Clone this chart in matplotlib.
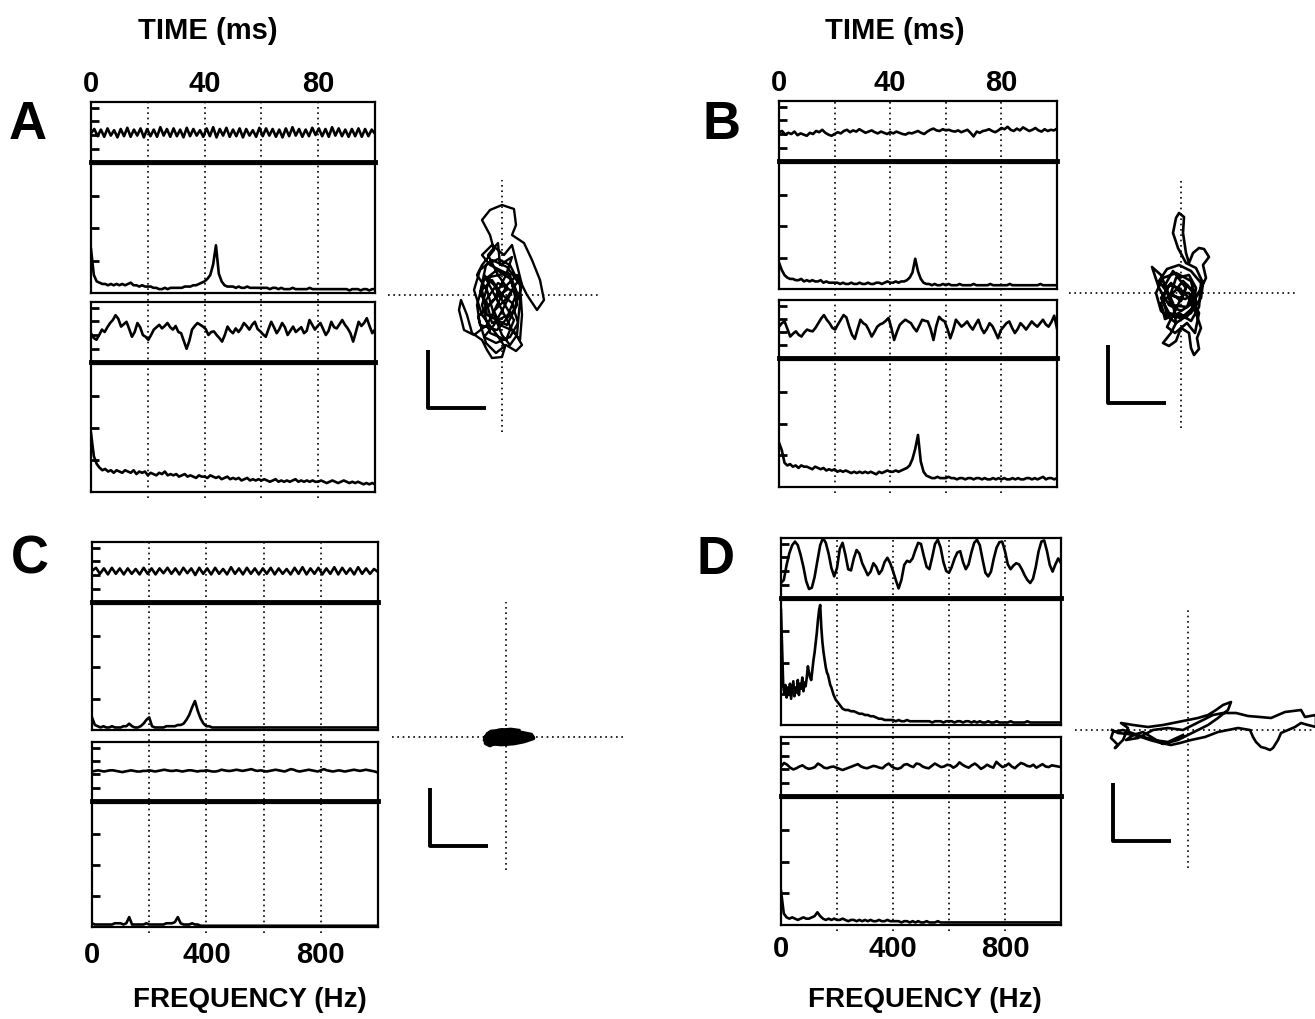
import numpy as np
import matplotlib.pyplot as plt

plt.rcParams['font.family'] = ['Liberation Sans', 'DejaVu Sans']
plt.rcParams['font.weight'] = 'bold'

# ---- data (arbitrary units 0-100 per box) ----
time_ticks = [0, 40, 80]          # ms
freq_ticks = [0, 400, 800]        # Hz

# panel A
a_time1 = [48, 55, 43, 54, 42, 56, 44, 53, 41, 55, 43, 57, 42, 54, 44, 56, 41, 55, 43, 54, 42, 58,
           44, 55, 42, 56, 43, 54, 41, 57, 43, 55, 44, 53, 42, 56, 43, 58, 41, 55, 44, 57, 42, 54,
           43, 56, 41, 55, 44, 53, 42, 57, 43, 56, 44, 55, 42, 54, 41, 56, 43, 58, 44, 55, 42, 54,
           43, 57, 45, 56, 43, 55, 42, 58, 44, 56, 43, 54, 42, 55, 43, 56, 42, 55, 43, 54, 47]
a_spec1 = [34, 14, 9, 8, 7, 7, 6, 7, 6, 7, 6, 7, 6, 7, 8, 6, 6, 5, 6, 5, 5, 5, 4, 4, 3, 3, 4, 3, 4, 4,
           4, 4, 4, 5, 5, 5, 6, 6, 7, 8, 9, 11, 14, 22, 37, 15, 9, 6, 5, 5, 5, 4, 5, 4, 4, 5, 4, 4, 4, 4,
           4, 4, 4, 3, 4, 4, 3, 4, 3, 3, 3, 4, 3, 3, 3, 3, 3, 4, 3, 3, 3, 3, 3, 3, 3, 3, 3, 3, 3, 3,
           3, 2, 3, 3, 3, 2, 3, 3, 2, 3, 3]
a_time2 = [48, 40, 37, 45, 54, 50, 58, 65, 70, 78, 72, 59, 63, 67, 55, 42, 50, 65, 58, 45, 42, 37, 45,
           54, 58, 62, 56, 60, 65, 58, 54, 60, 50, 48, 35, 22, 35, 54, 60, 65, 62, 59, 55, 45, 50, 51,
           45, 40, 34, 45, 59, 52, 48, 56, 50, 56, 65, 60, 54, 62, 67, 55, 51, 46, 42, 55, 67, 58, 48,
           55, 65, 58, 45, 52, 59, 50, 54, 58, 48, 52, 70, 62, 54, 60, 65, 55, 45, 52, 67, 58, 56, 63,
           70, 62, 56, 48, 34, 50, 67, 60, 65, 73, 60, 48, 54]
a_spec2 = [46, 28, 22, 19, 17, 18, 16, 17, 15, 17, 16, 15, 17, 16, 15, 17, 14, 16, 15, 16,
           13, 15, 14, 13, 15, 14, 16, 13, 14, 13, 14, 12, 13, 14, 12, 13, 12, 11, 13, 12,
           12, 11, 13, 12, 11, 12, 10, 11, 12, 10, 11, 10, 11, 9, 10, 11, 9, 10, 9, 10,
           9, 10, 9, 8, 9, 10, 8, 9, 8, 9, 8, 9, 10, 8, 9, 8, 9, 8, 9, 8,
           8, 9, 8, 7, 8, 9, 8, 7, 8, 9, 8, 7, 8, 7, 8, 7, 6, 7, 6, 7, 6]
a_xy = [(0, 0), (-10, 15), (-20, 5), (-15, -20), (5, -30), (15, -10), (8, 20), (-12, 30), (-20, 40),
        (-10, 50), (2, 40), (10, 50), (15, 30), (20, 10), (12, -15), (-5, -35), (-22, -30), (-25, -10),
        (-18, 15), (-5, 25), (10, 15), (18, -5), (15, -40), (8, -50), (0, -40), (-8, -20), (-15, 5),
        (-25, 20), (-20, 30), (-8, 45), (-12, 60), (-20, 75), (-12, 85), (0, 90), (12, 86), (14, 70),
        (10, 60), (22, 52), (30, 35), (38, 15), (42, -5), (35, -15), (25, 0), (15, 20), (5, 10),
        (-5, -10), (-15, -30), (-28, -40), (-38, -35), (-43, -15), (-41, -5), (-35, -20), (-30, -38),
        (-20, -45), (-15, -55), (-10, -63), (0, -62), (3, -52), (-5, -40), (-20, -20), (-28, 5),
        (-22, 25), (-10, 35), (5, 28), (18, 10), (20, -20), (18, -45), (10, -35), (0, -15), (-10, 5),
        (-18, 20), (-8, 10), (0, -5), (12, -25), (4, -45), (-12, -38), (-20, -10), (-12, 18), (6, 22),
        (14, 0), (6, -20), (-10, -28), (-16, -5), (-4, 12), (10, 4), (2, -12), (-8, -30), (-18, -42),
        (-6, -48), (8, -42), (16, -28), (10, -8), (-2, 2), (-14, -12), (-22, 2), (-16, 30), (-4, 36),
        (8, 30), (16, 14), (4, -4), (-8, -16), (-2, -30), (12, -36), (20, -50), (14, -56), (4, -50),
        (-6, -58), (-16, -48), (-24, -22), (-10, -6), (6, 6), (-4, 20), (-14, 40), (-4, 52), (-2, 30),
        (10, 38), (4, 20), (-6, 0)]

# panel B
b_time1 = [48, 50, 44, 47, 45, 49, 43, 46, 44, 42, 47, 45, 50, 48, 52, 47, 44, 42, 45, 48, 46, 50, 52,
           48, 51, 49, 53, 50, 47, 49, 51, 48, 46, 49, 47, 45, 48, 46, 49, 47, 45, 44, 47, 46, 48, 50,
           47, 45, 49, 52, 54, 51, 50, 53, 51, 52, 50, 49, 51, 48, 50, 52, 47, 41, 49, 47, 50, 51, 53,
           50, 48, 51, 55, 53, 57, 52, 50, 54, 51, 56, 53, 50, 52, 55, 51, 49, 53, 50, 52, 51, 54]
b_spec1 = [21, 15, 11, 9, 8, 8, 7, 7, 8, 6, 7, 6, 7, 6, 6, 7, 5, 6, 5, 5, 5, 5, 4, 5, 4, 4, 5, 4, 4, 5,
           4, 4, 5, 4, 4, 5, 5, 4, 5, 6, 5, 5, 6, 5, 6, 6, 7, 9, 13, 24, 14, 8, 5, 4, 4, 3, 4, 3, 3, 4,
           3, 4, 3, 3, 3, 4, 3, 3, 3, 3, 4, 3, 3, 3, 3, 3, 4, 3, 3, 3, 3, 3, 3, 4, 3, 3, 3, 3, 3, 3,
           3, 3, 3, 3, 4, 3, 3, 3, 3, 3, 3]
b_time2 = [54, 60, 63, 50, 37, 42, 46, 40, 37, 44, 49, 47, 46, 52, 60, 68, 74, 66, 60, 52, 49, 58, 66,
           74, 70, 54, 40, 33, 50, 66, 60, 57, 48, 37, 45, 54, 58, 60, 64, 69, 52, 31, 45, 57, 62, 66,
           63, 60, 52, 46, 56, 66, 64, 63, 50, 31, 55, 71, 66, 63, 50, 34, 48, 66, 60, 54, 58, 63, 55,
           49, 58, 66, 52, 43, 50, 60, 55, 45, 34, 48, 54, 60, 63, 52, 43, 50, 60, 55, 49, 56, 63, 58,
           54, 60, 66, 58, 54, 62, 73, 51]
b_spec2 = [35, 29, 19, 17, 18, 16, 17, 15, 17, 16, 16, 15, 14, 16, 15, 14, 15, 13, 14, 13,
           14, 12, 13, 12, 13, 12, 11, 12, 11, 12, 11, 12, 11, 12, 11, 10, 12, 11, 12, 13,
           12, 12, 13, 12, 13, 14, 15, 17, 22, 30, 41, 20, 12, 9, 8, 7, 7, 8, 7, 7,
           7, 8, 7, 7, 6, 7, 7, 6, 7, 7, 6, 7, 7, 6, 7, 6, 6, 7, 6, 7,
           6, 7, 6, 6, 7, 6, 7, 6, 6, 7, 7, 6, 7, 6, 7, 8, 6, 7, 7, 6, 7]
b_xy = [(0, 0), (-10, 10), (-20, -5), (-12, -20), (5, -25), (15, -8), (10, 12), (-5, 20), (-18, 15),
        (-25, 0), (-20, -18), (-5, -30), (10, -20), (20, -5), (22, 10), (15, 25), (5, 30), (-3, 45),
        (-8, 60), (-5, 75), (-2, 80), (3, 76), (2, 60), (5, 40), (8, 30), (12, 40), (18, 45), (23, 44),
        (28, 36), (22, 28), (25, 15), (20, 5), (12, -10), (0, -18), (-12, -12), (-22, 5), (-29, 26),
        (-20, 18), (-15, 5), (-8, -10), (-5, -30), (-10, -40), (-18, -50), (-12, -53), (-5, -48),
        (0, -35), (8, -40), (10, -55), (13, -62), (18, -56), (16, -45), (20, -35), (15, -20), (8, -5),
        (-2, 5), (-12, 8), (-18, -5), (-14, -22), (0, -25), (12, -15), (15, 5), (8, 18), (-5, 15),
        (-10, 0), (0, -8), (5, 5), (-8, 22), (-16, 8), (-10, -12), (6, -14), (12, 2), (2, 12),
        (-6, 2), (-20, -10), (-16, -26), (-2, -20), (10, -28), (18, -14), (20, 10), (10, 22),
        (-2, 28), (-14, 24), (-22, 12), (-12, -2), (4, -6), (14, -2), (6, 8), (-4, -14), (-14, -34),
        (-6, -40), (6, -30), (14, -40), (18, -20), (8, 0), (0, 0)]

# panel C
c_time1 = [52, 57, 47, 56, 46, 57, 47, 56, 46, 56, 47, 55, 46, 57, 47, 56, 46, 56, 48, 57, 47, 56, 46,
           57, 48, 56, 45, 57, 47, 56, 46, 57, 47, 55, 46, 58, 47, 56, 46, 57, 47, 56, 46, 56, 47, 57,
           46, 56, 47, 55, 46, 57, 47, 58, 46, 56, 47, 57, 46, 56, 47, 58, 46, 57, 47, 56, 46, 58, 47,
           56, 47, 55, 50]
c_spec1 = [10, 4, 3, 2, 3, 2, 2, 3, 2, 2, 2, 3, 3, 5, 3, 2, 2, 3, 5, 8, 10, 3, 2, 2, 2, 2, 3, 3, 3, 3,
           4, 4, 5, 8, 12, 18, 23, 15, 9, 5, 3, 3, 2, 2, 2, 2, 2, 2, 2, 2, 2, 2, 2, 2, 2, 2, 2, 2, 2, 2,
           2, 2, 2, 2, 2, 2, 2, 2, 2, 2, 2, 2, 2, 2, 2, 2, 2, 2, 2, 2, 2, 2, 2, 2, 2, 2, 2, 2, 2, 2,
           2, 2, 2, 2, 2, 2, 2, 2, 2, 2, 2]
c_time2 = [50, 51, 52, 51, 50, 51, 52, 52, 51, 50, 49, 50, 51, 52, 51, 50, 50, 51, 51, 52, 51, 50, 51,
           52, 53, 52, 51, 51, 52, 51, 50, 51, 52, 52, 51, 50, 51, 51, 52, 51, 50, 50, 51, 53, 52, 51,
           51, 52, 53, 52, 51, 52, 53, 54, 52, 51, 52, 51, 50, 51, 52, 53, 52, 51, 50, 52, 54, 53, 51,
           50, 51, 52, 53, 52, 51, 50, 52, 54, 52, 51, 50, 51, 52, 51, 50, 51, 52, 53, 52, 51, 52, 53,
           52, 51, 50, 48]
c_spec2 = [3, 2, 2, 2, 2, 2, 2, 2, 3, 3, 3, 2, 3, 8, 2, 2, 2, 2, 2, 3, 2, 2, 2, 2, 2, 2, 3, 3, 3, 4,
           8, 3, 2, 2, 2, 3, 2, 2, 1, 1, 1, 1, 1, 1, 1, 1, 1, 1, 1, 1, 1, 1, 1, 1, 1, 1, 1, 1, 1, 1,
           1, 1, 1, 1, 1, 1, 1, 1, 1, 1, 1, 1, 1, 1, 1, 1, 1, 1, 1, 1, 1, 1, 1, 1, 1, 1, 1, 1, 1, 1,
           1, 1, 1, 1, 1, 1, 1, 1, 1, 1, 1]
c_xy = [(-20, 0), (-15, 5), (-5, 6), (5, 5), (15, 4), (25, 2), (27, -1), (18, -4), (8, -6), (-5, -7),
        (-15, -6), (-21, -3), (-18, 3), (-8, 4), (2, 3), (12, 3), (22, 1), (15, -2), (5, -4), (-5, -3),
        (-15, -2), (-20, -6), (-16, -8), (-10, -5), (0, -6), (10, -3), (20, 0), (12, 2), (0, 1),
        (-10, 2), (-18, 1), (-12, -4), (0, -2), (10, 0), (20, -2), (8, -5), (-3, -4), (-14, 0),
        (-8, 6), (5, 7), (12, 6)]

# panel D
d_time1 = [25, 30, 55, 75, 88, 94, 88, 72, 52, 28, 15, 17, 35, 62, 88, 100, 92, 74, 50, 36, 50, 82,
           92, 72, 48, 46, 66, 80, 74, 58, 48, 38, 44, 58, 52, 40, 46, 60, 67, 58, 45, 30, 16, 30,
           55, 62, 60, 66, 80, 92, 90, 70, 52, 48, 68, 90, 97, 84, 60, 45, 42, 52, 66, 76, 78, 60,
           48, 56, 76, 92, 97, 88, 64, 42, 36, 44, 66, 84, 93, 94, 78, 56, 48, 54, 58, 56, 48, 38,
           30, 25, 32, 52, 78, 94, 96, 78, 55, 44, 56, 66, 58]
d_spec1_low = [92, 60, 31, 25, 32, 22, 30, 24, 33, 21, 28, 35, 23, 30, 26, 36, 24, 33, 29, 38,
               27, 34, 31, 38, 47, 42, 38, 36, 44, 52, 58, 66, 74, 84, 92, 96, 78, 66, 58, 52,
               46, 42, 40, 36, 32, 30, 27, 24, 22, 20]          # 0-196 Hz, 4 Hz steps
d_spec1_high = [19, 16, 13, 12, 12, 11, 11, 10, 9, 9, 8, 8, 7, 7, 6, 5, 5, 4, 4, 4,
                4, 3, 4, 3, 3, 4, 3, 3, 3, 3, 3, 3, 3, 3, 2, 3, 3, 3, 2, 3,
                3, 3, 2, 3, 3, 2, 3, 3, 2, 3, 2, 3, 2, 2, 3, 2, 2, 3, 2, 2,
                2, 2, 3, 2, 2, 2, 2, 2, 3, 2, 2, 2, 2, 2, 2, 2, 2, 2, 2, 2, 2]   # 200-1000 Hz
d_time2 = [50, 56, 53, 48, 45, 47, 50, 52, 48, 46, 47, 49, 55, 52, 48, 47, 49, 50, 48, 46, 44, 46,
           48, 50, 52, 54, 50, 48, 47, 49, 51, 50, 48, 47, 52, 55, 50, 47, 46, 48, 53, 54, 51, 49,
           55, 54, 50, 48, 47, 51, 55, 52, 49, 50, 53, 52, 48, 51, 57, 53, 50, 48, 52, 55, 51, 46,
           49, 53, 50, 48, 58, 53, 49, 51, 55, 50, 47, 52, 56, 54, 51, 50, 53, 48, 51, 54, 50, 49,
           52, 51, 50, 49]
d_spec2 = [27, 9, 6, 5, 6, 5, 4, 5, 6, 5, 5, 6, 7, 10, 7, 5, 4, 5, 4, 5, 4, 4, 5, 4, 3, 4, 4, 3, 4, 3,
           4, 3, 4, 3, 3, 4, 3, 3, 4, 3, 3, 3, 3, 2, 3, 3, 2, 3, 2, 3, 2, 2, 3, 2, 2, 2, 3, 2, 2, 2,
           2, 2, 2, 2, 2, 2, 2, 2, 2, 2, 2, 2, 2, 2, 2, 2, 2, 2, 2, 2, 2, 2, 2, 2, 2, 2, 2, 2, 2, 2,
           2, 2, 2, 2, 2, 2, 2, 2, 2, 2, 2]
d_xy = [(-5, -5), (-20, -12), (-35, -10), (-50, -5), (-65, 0), (-75, -2), (-77, -8), (-70, -15),
        (-73, -18), (-65, -10), (-60, 2), (-67, 7), (-55, 5), (-40, 3), (-25, 5), (-10, 8), (0, 10),
        (10, 12), (20, 15), (28, 20), (35, 25), (43, 28), (40, 20), (30, 12), (20, 5), (10, 0),
        (0, -5), (-10, -10), (-25, -14), (-35, -8), (-45, -2), (-55, -5), (-62, -10), (-50, -8),
        (-35, 0), (-20, 2), (-5, 0), (5, 5), (15, 10), (25, 15), (35, 17), (48, 17), (60, 14),
        (72, 13), (83, 12), (90, 15), (97, 18), (105, 19), (113, 20), (117, 13), (122, 14),
        (128, 15), (128, 3), (120, 5), (113, 7), (107, 3), (100, 0), (93, -3), (90, -10), (85, -18),
        (82, -20), (77, -18), (73, -17), (68, -12), (65, -7), (62, 0), (50, 2), (40, 0), (30, -2),
        (17, -7), (3, -10), (-8, -13), (-17, -15), (-27, -13), (-38, -10), (-50, -6), (-60, -4),
        (-70, -3), (-76, 0)]

# ---- layout helpers (pixel boxes) ----
W, H = 1315, 1019
fig = plt.figure(figsize=(W / 100, H / 100), dpi=100)
DOT = (0, (1, 2.2))


def px_axes(x0, y0, x1, y1):
    return fig.add_axes([x0 / W, 1 - y1 / H, (x1 - x0) / W, (y1 - y0) / H])


def style_box(ax, yticks, thick_bottom=False):
    ax.set_facecolor('none')
    for s in ax.spines.values():
        s.set_linewidth(1.6)
    if thick_bottom:
        ax.spines['bottom'].set_linewidth(3.5)
    ax.set_ylim(0, 100)
    ax.set_yticks(yticks)
    ax.tick_params(axis='y', direction='in', length=6, width=2, labelleft=False)
    ax.tick_params(axis='x', length=0, labelbottom=False)


def panel(xr, rows, t1, s1, t2, s2, s1_freq=None, top=False, bottom=False, bottom_pad=12):
    x0, x1 = xr
    (a0, a1), (b0, b1), (c0, c1), (d0, d1) = rows
    g = px_axes(x0, a0, x1, d1 + 6)
    g.set_xlim(0, 1)
    for gx in [0.2, 0.4, 0.6, 0.8]:
        g.axvline(gx, color='k', lw=1.2, ls=DOT)
    g.axis('off')

    for (y0, y1), vals, kind in [((a0, a1), t1, 't'), ((b0, b1), s1, 's'),
                                  ((c0, c1), t2, 't'), ((d0, d1), s2, 's')]:
        ax = px_axes(x0, y0, x1, y1)
        if kind == 't':
            ax.plot(np.linspace(0, 100, len(vals)), vals, color='k', lw=1.9)
            ax.set_xlim(0, 100)
            style_box(ax, [22, 45, 68, 90], thick_bottom=True)
            if top and y0 == a0:
                ax.set_xticks(time_ticks)
                ax.tick_params(axis='x', labeltop=True, labelbottom=False, length=0, pad=3,
                               labelsize=21)
        else:
            f = s1_freq if (s1_freq is not None and vals is s1) else np.linspace(0, 1000, len(vals))
            ax.plot(f, vals, color='k', lw=1.9)
            ax.set_xlim(0, 1000)
            style_box(ax, [25, 50, 75])
            if bottom and y0 == d0:
                ax.set_xticks(freq_ticks)
                ax.tick_params(axis='x', labelbottom=True, length=0, pad=bottom_pad, labelsize=21)
        for lab in ax.get_xticklabels():
            lab.set_fontweight('bold')


def xy_panel(xr, yr, centre, pts, bar_corner, lw=1.3, bar=58):
    x0, x1 = xr
    y0, y1 = yr
    cx, cy = centre
    ax = px_axes(x0, y0, x1, y1)
    ax.set_xlim(x0 - cx, x1 - cx)
    ax.set_ylim(cy - y1, cy - y0)
    ax.axhline(0, color='k', lw=1.2, ls=DOT)
    ax.axvline(0, color='k', lw=1.2, ls=DOT)
    xs, ys = np.array(pts).T
    ax.plot(xs, ys, color='k', lw=lw, solid_joinstyle='round')
    bx, by = bar_corner
    ax.plot([bx, bx, bx + bar], [by + bar, by, by], color='k', lw=2.8, solid_capstyle='butt')
    ax.axis('off')


# ---- panels ----
panel((91, 375), [(102, 162), (164, 293), (302, 362), (364, 492)],
      a_time1, a_spec1, a_time2, a_spec2, top=True)
panel((779, 1057), [(101, 161), (163, 289), (300, 358), (360, 487)],
      b_time1, b_spec1, b_time2, b_spec2, top=True)
panel((92, 378), [(542, 602), (604, 730), (742, 801), (803, 927)],
      c_time1, c_spec1, c_time2, c_spec2, bottom=True, bottom_pad=10)
d_freq1 = np.concatenate([np.arange(0, 200, 4), np.arange(200, 1001, 10)])
panel((781, 1061), [(538, 598), (600, 725), (737, 796), (798, 925)],
      d_time1, d_spec1_low + d_spec1_high, d_time2, d_spec2, s1_freq=d_freq1,
      bottom=True, bottom_pad=7)

xy_panel((388, 600), (180, 432), (502, 295), a_xy, (-74, -113), lw=1.7)
xy_panel((1069, 1295), (178, 428), (1181, 293), b_xy, (-73, -110), lw=1.9)
xy_panel((392, 623), (602, 870), (506, 737), c_xy, (-76, -109), lw=3.4)
xy_panel((1075, 1315), (608, 868), (1188, 730), d_xy, (-75, -111), lw=1.9)

# ---- text ----
def ftext(x, y, s, size=18):
    fig.text(x / W, 1 - y / H, s, ha='center', va='center', fontsize=size, fontweight='bold')


ftext(208, 31, 'TIME (ms)', 21)
ftext(895, 31, 'TIME (ms)', 21)
ftext(250, 1000, 'FREQUENCY (Hz)', 20)
ftext(925, 1000, 'FREQUENCY (Hz)', 20)
ftext(28, 125, 'A', 38)
ftext(722, 125, 'B', 38)
ftext(30, 560, 'C', 38)
ftext(716, 560, 'D', 38)

fig.savefig('out.png', dpi=100)
